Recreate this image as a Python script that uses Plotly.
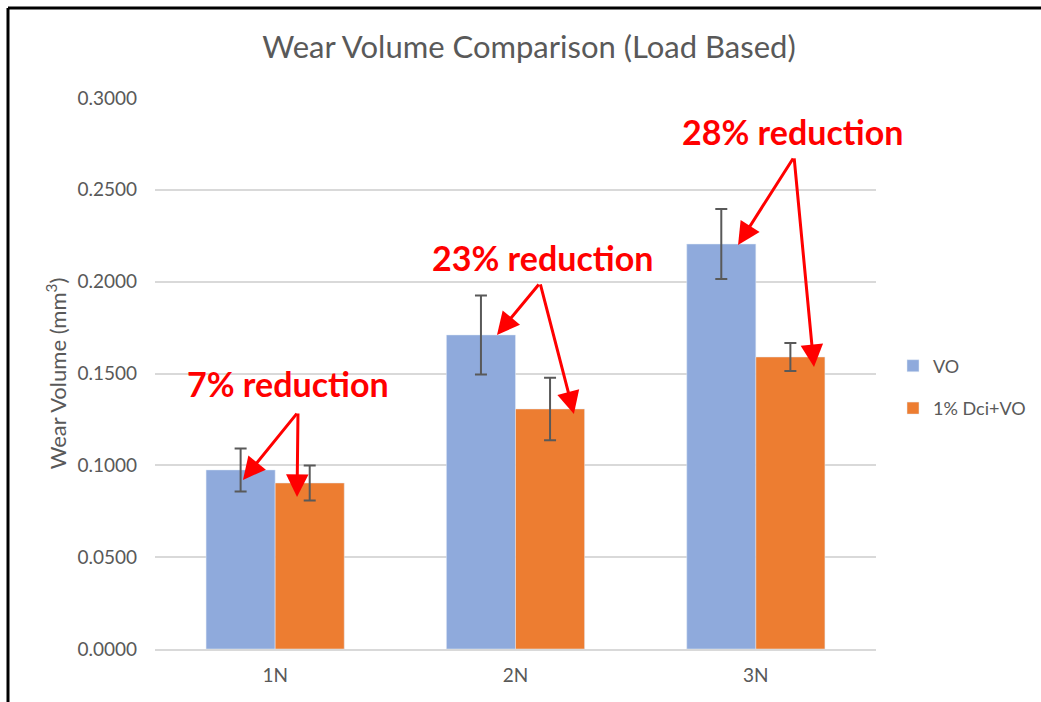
import plotly.graph_objects as go

# Wear volume per applied load (mm^3) with standard deviation
loads = ["1N", "2N", "3N"]
vo_mean = [0.0975, 0.1710, 0.2205]
vo_err = [0.0117, 0.0215, 0.0190]
dci_mean = [0.0904, 0.1307, 0.1590]
dci_err = [0.0095, 0.0170, 0.0076]
series_names = ["VO", "1% Dci+VO"]
reduction_labels = ["7% reduction", "23% reduction", "28% reduction"]

FONT = "Lato, 'Open Sans', sans-serif"
GREY = "#595959"
BLUE = "#8FAADC"
ORANGE = "#ED7D31"
RED = "#FF0000"

fig = go.Figure()
fig.add_trace(go.Bar(
    x=loads, y=vo_mean, name=series_names[0], marker_color=BLUE,
    legendgroup="a",
    error_y=dict(type="data", array=vo_err, visible=True,
                 color=GREY, thickness=2, width=6),
))
fig.add_trace(go.Bar(
    x=loads, y=dci_mean, name=series_names[1], marker_color=ORANGE,
    legendgroup="b",
    error_y=dict(type="data", array=dci_err, visible=True,
                 color=GREY, thickness=2, width=6),
))

# label placement (data units: category index, wear volume)
label_pos = [(0.053, 0.1443), (1.112, 0.2129), (2.153, 0.2820)]
# arrow tails and the two heads for each load
arrow_tail = [(0.095, 0.1290), (1.102, 0.1993), (2.159, 0.2679)]
arrow_heads = [
    [(-0.134, 0.0920), (0.091, 0.0828)],
    [(0.923, 0.1710), (1.243, 0.1280)],
    [(1.926, 0.2200), (2.242, 0.1535)],
]

annotations = []
for i, txt in enumerate(reduction_labels):
    lx, ly = label_pos[i]
    annotations.append(dict(
        x=lx, y=ly, xref="x", yref="y", text=f"<b>{txt}</b>",
        showarrow=False, xanchor="center", yanchor="middle",
        font=dict(family=FONT, size=34, color=RED),
    ))
    tx, ty = arrow_tail[i]
    for hx, hy in arrow_heads[i]:
        annotations.append(dict(
            x=hx, y=hy, xref="x", yref="y",
            ax=tx, ay=ty, axref="x", ayref="y",
            text="", showarrow=True, arrowhead=2, arrowsize=1.5,
            arrowwidth=3, arrowcolor=RED, standoff=0, startstandoff=0,
        ))

# outer frame (left and top edges)
L, R, T, B = 155, 165, 98, 53
W, H = 1041, 702
pw, ph = W - L - R, H - T - B
fx = lambda px: (px - L) / pw
fy = lambda py: (H - B - py) / ph
shapes = [
    dict(type="line", xref="paper", yref="paper",
         x0=fx(8), x1=fx(1045), y0=fy(8), y1=fy(8),
         line=dict(color="black", width=3)),
    dict(type="line", xref="paper", yref="paper",
         x0=fx(8), x1=fx(8), y0=fy(8), y1=fy(710),
         line=dict(color="black", width=3)),
]

fig.update_layout(
    width=W, height=H,
    margin=dict(l=L, r=R, t=T, b=B, autoexpand=False),
    paper_bgcolor="white", plot_bgcolor="white",
    barmode="group", bargap=0.425, bargroupgap=0,
    font=dict(family=FONT, color=GREY, size=18),
    title=dict(text="Wear Volume Comparison (Load Based)",
               x=529 / W, y=1 - 47 / H, xref="container", yref="container",
               xanchor="center", yanchor="middle",
               font=dict(family=FONT, size=31, color=GREY)),
    legend=dict(x=fx(893), y=fy(387), xanchor="left", yanchor="middle",
                font=dict(family=FONT, size=18, color=GREY),
                itemwidth=30, tracegroupgap=16, bgcolor="rgba(0,0,0,0)"),
    annotations=annotations,
    shapes=shapes,
)
fig.update_xaxes(range=[-0.5, 2.5], autorange=False,
                 showgrid=False, showline=True, linecolor="#d9d9d9",
                 linewidth=2, ticks="", ticklabelstandoff=8,
                 tickfont=dict(family=FONT, size=19, color=GREY))
fig.update_yaxes(range=[0, 0.3], dtick=0.05, tickformat=".4f",
                 showgrid=True, gridcolor="#d9d9d9", gridwidth=1.5,
                 zeroline=False, showline=False, ticks="",
                 ticklabelstandoff=17,
                 tickfont=dict(family=FONT, size=19, color=GREY),
                 title=dict(text="Wear Volume (mm<sup>3</sup>)", standoff=4,
                            font=dict(family=FONT, size=22, color=GREY)))

fig.write_html("out.html")
